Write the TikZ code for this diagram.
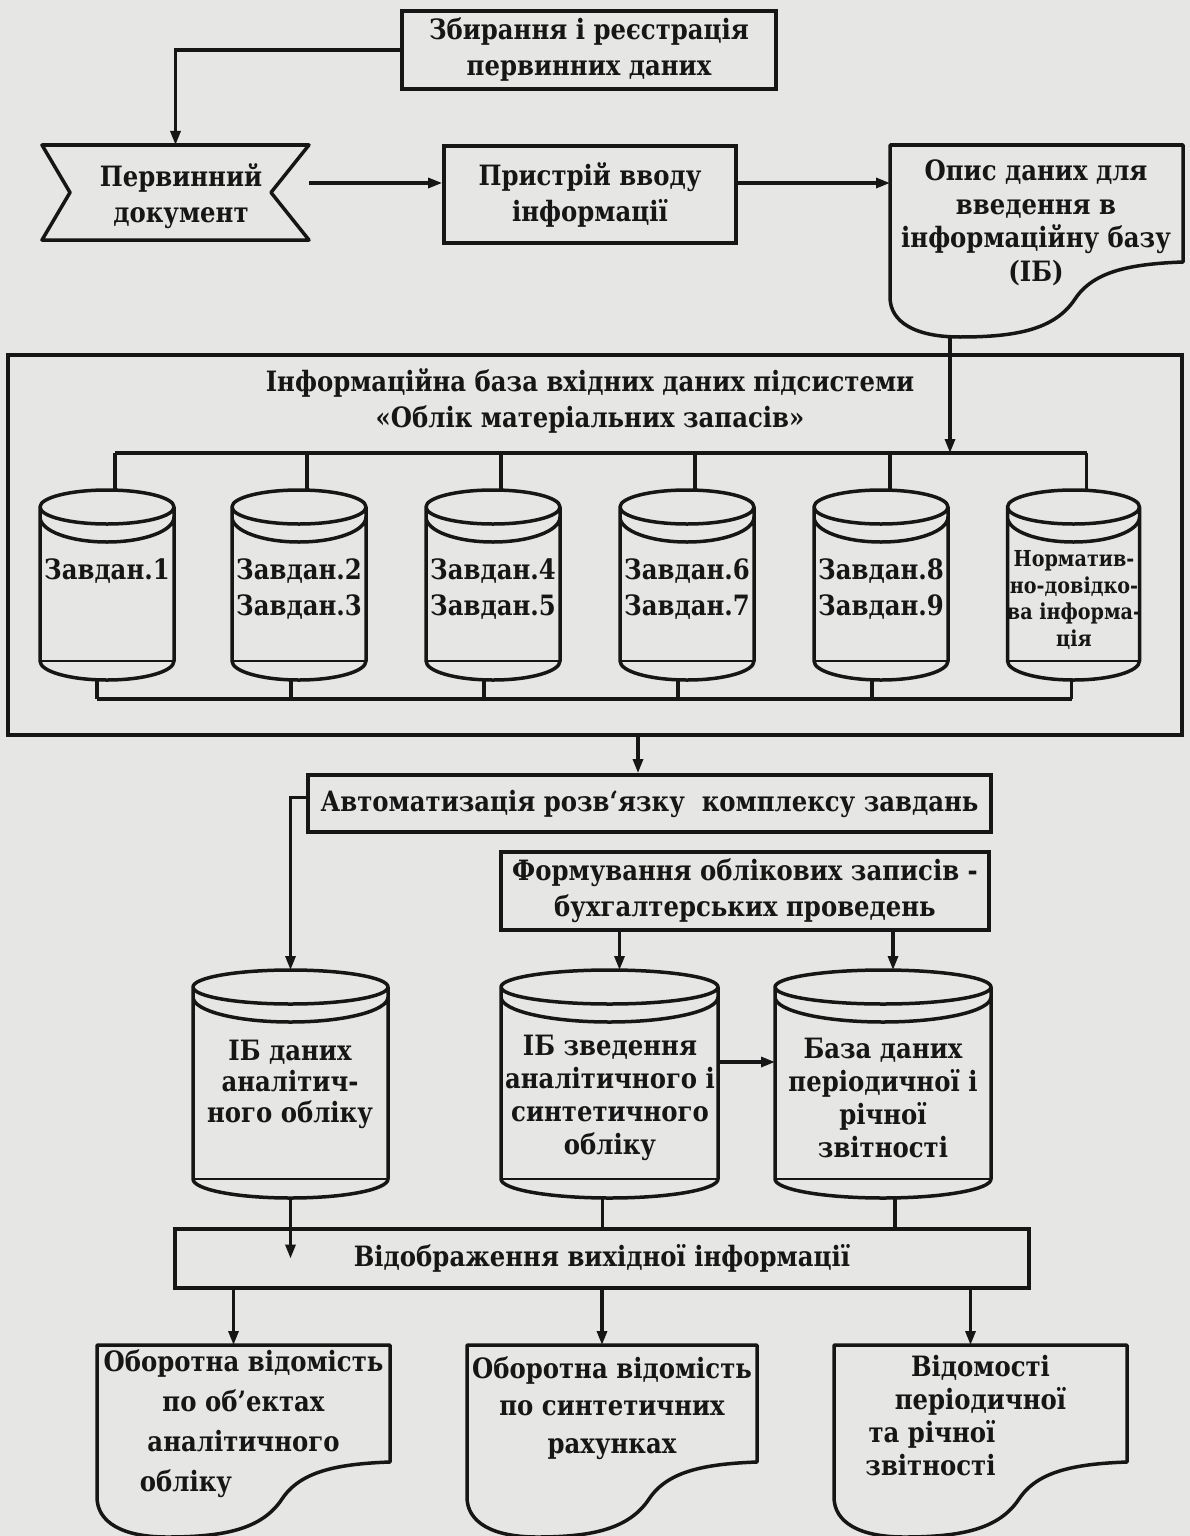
\documentclass[tikz,border=0pt]{standalone}
\usepackage{fontspec}
\setmainfont{DejaVu Serif}[FakeStretch=0.87]
\usetikzlibrary{arrows.meta,calc}
\definecolor{paper}{RGB}{230,230,228}
\definecolor{ink}{RGB}{22,22,22}
\newcommand\mainf{\bfseries\fontsize{28}{36}\selectfont}
\newcommand\cylshape[1]{%
  \draw[shp] let \p1=(#1.north west), \p2=(#1.south east), \p3=(#1.north),
      \n1={veclen(\x2-\x1,0)/2} in
    (\x3,\y1-17pt) ellipse [x radius=\n1, y radius=17pt]
    (\x1,\y1-17pt) -- (\x1,\y2+19pt)
      arc[start angle=180, end angle=360, x radius=\n1, y radius=19pt]
      -- (\x2,\y1-17pt)
    (\x1,\y1-27pt) arc[start angle=180, end angle=360, x radius=\n1, y radius=25pt];
  \draw[ink, line width=1.8pt] let \p1=(#1.south west), \p2=(#1.south east) in
    (\x1,\y1+19pt) -- (\x2,\y2+19pt);
}
\newcommand\docshape[1]{%
  \draw[shp] let \p1=(#1.north west), \p2=(#1.south east) in
    (\x1,\y1) -- (\x2,\y1) -- (\x2,\y2+75pt)
    .. controls (\x2-55pt,\y2+73pt) and (\x2-90pt,\y2+65pt) .. (\x2-108pt,\y2+38pt)
    .. controls (\x2-128pt,\y2+8pt) and (\x2-165pt,\y2) .. (\x1+70pt,\y2)
    .. controls (\x1+25pt,\y2) and (\x1,\y2+15pt) .. (\x1,\y2+40pt) -- cycle;
}
\begin{document}
\begin{tikzpicture}[x=1pt,y=-1pt,
  box/.style={draw=ink, line width=3.8pt, inner sep=0pt, align=center, font=\mainf, text=ink},
  frame/.style={draw=none, inner sep=0pt, outer sep=0pt},
  txt/.style={inner sep=0pt, align=center, font=\mainf, text=ink},
  shp/.style={draw=ink, line width=3.5pt, line join=round},
  conn/.style={draw=ink, line width=3.1pt},
  arr/.style={conn, -{Triangle[length=14pt,width=10pt]}}]
\fill[paper] (0,0) rectangle (1190,1536);
\useasboundingbox (0,0) rectangle (1190,1536);
\clip (0,0) rectangle (1190,1536);

% --- top row
\node[box, minimum width=374pt, minimum height=78pt] (zb) at (589,50) {Збирання і реєстрація\\первинних даних};
\node[frame, minimum width=267pt, minimum height=95pt] (pd) at (175.5,192.5) {};
\draw[shp] (pd.north west) -- (pd.north east) -- ($(pd.east)+(-38,0)$) -- (pd.south east)
  -- (pd.south west) -- ($(pd.west)+(28,0)$) -- cycle;
\node[txt] (pdt) at (181,196) {Первинний\\документ};
\node[box, minimum width=292pt, minimum height=97pt] (pv) at (590,194.5) {Пристрій вводу\\інформації};
\node[frame, minimum width=293pt, minimum height=192pt] (op) at (1036.5,241) {};
\docshape{op}
\node[txt, font=\bfseries\fontsize{28}{33.5}\selectfont] (opt) at (1036,223) {Опис даних для\\введення в\\інформаційну базу\\(ІБ)};

\coordinate (rowA) at (0,183);
\draw[arr] (zb.west) -| (pd.north);
\draw[arr] (pd.east |- rowA) -- (pv.west |- rowA);
\draw[arr] (pv.east |- rowA) -- (op.west |- rowA);

% --- input information base
\node[box, minimum width=1174pt, minimum height=380pt] (ib) at (595,545) {};
\node[txt] (ibt) at (590,401) {Інформаційна база вхідних даних підсистеми\\«Облік матеріальних запасів»};

\node[frame, minimum width=134pt, minimum height=190pt] (c1) at (107,585) {};
\node[frame, minimum width=134pt, minimum height=190pt] (c2) at (299,585) {};
\node[frame, minimum width=134pt, minimum height=190pt] (c3) at (493,585) {};
\node[frame, minimum width=134pt, minimum height=190pt] (c4) at (687,585) {};
\node[frame, minimum width=134pt, minimum height=190pt] (c5) at (881,585) {};
\node[frame, minimum width=132pt, minimum height=190pt] (c6) at (1073.5,585) {};
\cylshape{c1}\cylshape{c2}\cylshape{c3}\cylshape{c4}\cylshape{c5}\cylshape{c6}
\node[txt] (c1t) at (107,571) {Завдан.1};
\node[txt] (c2t) at (299,589) {Завдан.2\\Завдан.3};
\node[txt] (c3t) at (493,589) {Завдан.4\\Завдан.5};
\node[txt] (c4t) at (687,589) {Завдан.6\\Завдан.7};
\node[txt] (c5t) at (881,589) {Завдан.8\\Завдан.9};
\node[txt, font=\bfseries\fontsize{22}{26.5}\selectfont] (c6t) at (1074,600) {Норматив-\\но-довідко-\\ва інформа-\\ція};

\coordinate (busT) at (0,453);
\coordinate (busB) at (0,699);
\foreach \c/\a/\b in {c1/8/-10,c2/8/-8,c3/8/-9,c4/8/-9,c5/9/-9,c6/13/-2}{
  \coordinate (\c top) at ($(\c.north)+(\a,0)$);
  \coordinate (\c bot) at ($(\c.south)+(\b,0)$);
}
\draw[conn] (c1top |- busT) -- (c6top |- busT);
\draw[conn] (c1bot |- busB) -- (c6bot |- busB);
\foreach \c in {c1,c2,c3,c4,c5,c6}{
  \draw[conn] (\c top |- busT) -- (\c top);
  \draw[conn] (\c bot) -- (\c bot |- busB);
}
\coordinate (opx) at (950,0);
\draw[arr] (op.south -| opx) -- (opx |- busT);

% --- processing
\node[box, minimum width=683pt, minimum height=57pt] (av) at (649.5,803.5) {Автоматизація розв‘язку\ \ комплексу завдань};
\coordinate (ax) at (638,0);
\draw[arr] (ib.south -| ax) -- (av.north -| ax);
\node[box, minimum width=488pt, minimum height=78pt] (fm) at (745,891) {Формування облікових записів -\\бухгалтерських проведень};

\node[frame, minimum width=195pt, minimum height=228pt] (cd) at (290.5,1084) {};
\node[frame, minimum width=217pt, minimum height=228pt] (cz) at (609.5,1084) {};
\node[frame, minimum width=216pt, minimum height=228pt] (cb) at (883,1084) {};
\cylshape{cd}\cylshape{cz}\cylshape{cb}
\node[txt, font=\bfseries\fontsize{28}{31}\selectfont] (cdt) at (290,1084) {ІБ даних\\аналітич-\\ного обліку};
\node[txt, font=\bfseries\fontsize{28}{33}\selectfont] (czt) at (610,1098) {ІБ зведення\\аналітичного і\\синтетичного\\обліку};
\node[txt, font=\bfseries\fontsize{28}{33}\selectfont] (cbt) at (883,1098) {База даних\\періодичної і\\річної\\звітності};

\draw[arr] ($(av.west)+(0,-6)$) -| (cd.north);
\coordinate (fa) at ($(cz.north)+(10,0)$);
\coordinate (fb) at ($(cb.north)+(10,0)$);
\draw[arr] (fa |- fm.south) -- (fa);
\draw[arr] (fb |- fm.south) -- (fb);
\coordinate (hz) at (0,1062);
\draw[arr] (cz.east |- hz) -- (cb.west |- hz);

% --- output
\node[box, minimum width=854pt, minimum height=59pt] (vd) at (602,1258.5) {Відображення вихідної інформації};
\draw[arr] (cd.south) -- (cd.south |- vd.center);
\coordinate (za) at ($(cz.south)+(-7,0)$);
\coordinate (ba) at ($(cb.south)+(12,0)$);
\draw[conn] (za) -- (za |- vd.north);
\draw[conn] (ba) -- (ba |- vd.north);

\node[frame, minimum width=293pt, minimum height=192pt] (d1) at (243.5,1441) {};
\node[frame, minimum width=290pt, minimum height=192pt] (d2) at (612,1441) {};
\node[frame, minimum width=293pt, minimum height=192pt] (d3) at (980.5,1441) {};
\docshape{d1}\docshape{d2}\docshape{d3}
\foreach \d in {d1,d2,d3}{
  \coordinate (\d in) at ($(\d.north)+(-10,0)$);
  \draw[arr] (\d in |- vd.south) -- (\d in);
}
\node[txt, font=\bfseries\fontsize{28}{40}\selectfont] (d1t) at (243.5,1424) {Оборотна відомість\\по об’ектах\\аналітичного\\обліку\hspace*{115pt}\mbox{}};
\node[txt, font=\bfseries\fontsize{28}{37.5}\selectfont] (d2t) at (612,1408) {Оборотна відомість\\по синтетичних\\рахунках};
\node[txt, font=\bfseries\fontsize{28}{33}\selectfont] (d3t) at (980.5,1416) {Відомості\\періодичної\\та річної\hspace*{97pt}\mbox{}\\звітності\hspace*{100pt}\mbox{}};
\end{tikzpicture}
\end{document}
